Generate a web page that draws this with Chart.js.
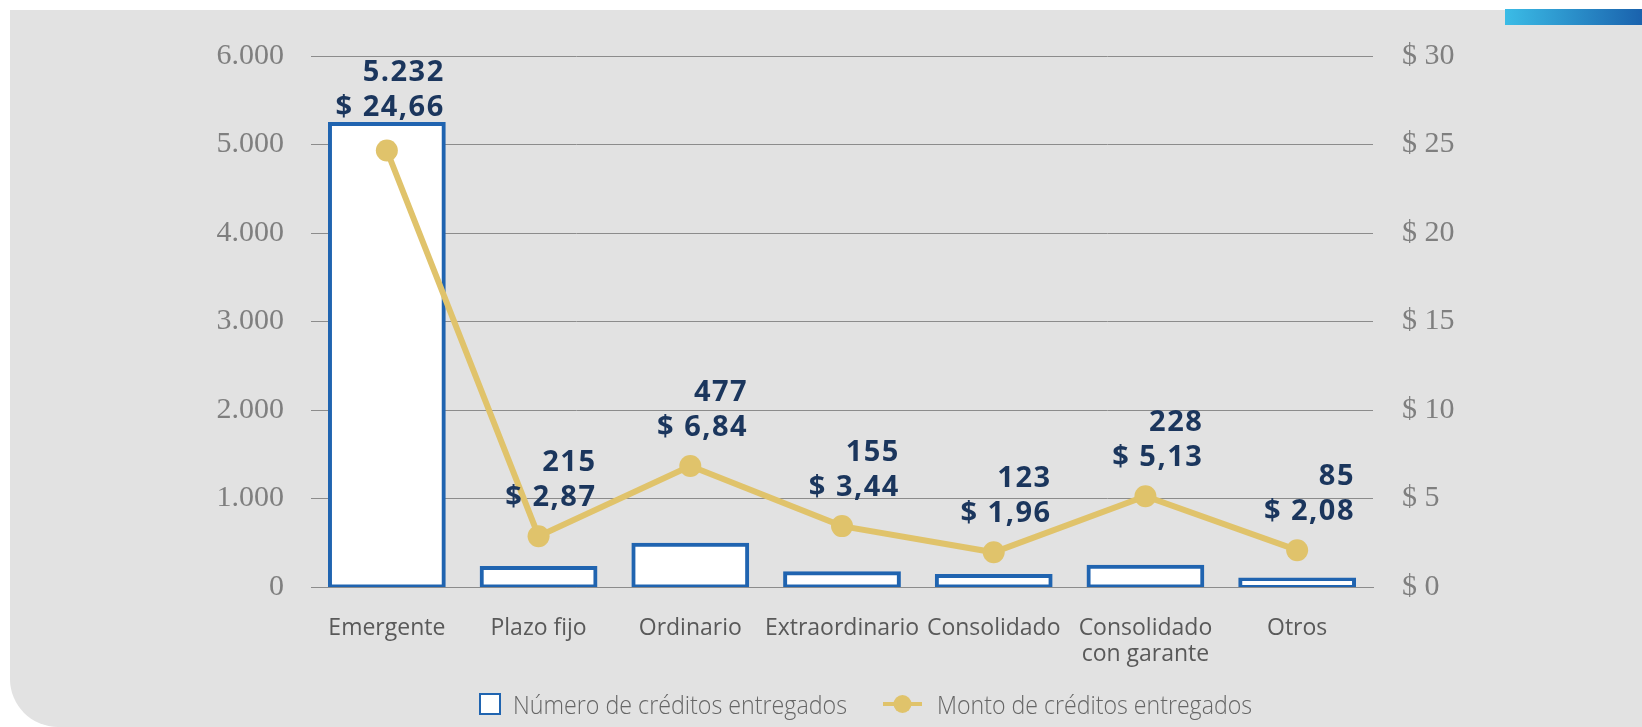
<!DOCTYPE html>
<html lang="es">
<head>
<meta charset="utf-8">
<title>Créditos entregados</title>
<script src="https://cdn.jsdelivr.net/npm/chart.js@4.4.1/dist/chart.umd.min.js"></script>
<style>
  html, body { margin: 0; padding: 0; background: #fff; }
  #wrap { position: relative; width: 1642px; height: 727px; overflow: hidden; }
  #panel { position: absolute; left: 10px; top: 10px; right: 0; bottom: 0; background: #e2e2e2; border-bottom-left-radius: 48px; }
  #franja { position: absolute; left: 1505px; top: 9px; width: 137px; height: 16px; background: linear-gradient(90deg, #3bbce6, #1a62ad); }
  #grafico { position: absolute; left: 0; top: 0; }
</style>
</head>
<body>
<div id="wrap">
  <div id="panel"></div>
  <div id="franja"></div>
  <canvas id="grafico" width="1642" height="727"></canvas>
</div>
<script>
// Datos del gráfico
const categorias = ['Emergente', 'Plazo fijo', 'Ordinario', 'Extraordinario', 'Consolidado', ['Consolidado', 'con garante'], 'Otros'];
const numeroCreditos = [5232, 215, 477, 155, 123, 228, 85];
const montoCreditos = [24.66, 2.87, 6.84, 3.44, 1.96, 5.13, 2.08];
const ticksNumero = [0, 1000, 2000, 3000, 4000, 5000, 6000];
const ticksMonto = [0, 5, 10, 15, 20, 25, 30];

const azul = '#2064b0';
const dorado = '#e0c36b';
const marino = '#1b365d';
const gris = '#8c8c8c';

// 5232 -> "5.232", 24.66 -> "24,66"
const fmtNumero = v => String(v).replace(/\B(?=(\d{3})+(?!\d))/g, '.');
const fmtMonto = v => v.toFixed(2).replace('.', ',');

// Etiquetas de datos: número arriba, monto debajo, alineadas al borde derecho de la barra
const etiquetas = {
    id: 'etiquetas',
    afterDatasetsDraw(chart) {
        const ctx = chart.ctx;
        const barras = chart.getDatasetMeta(0).data;
        const puntos = chart.getDatasetMeta(1).data;
        ctx.save();
        ctx.font = '700 29px "Open Sans"';
        ctx.letterSpacing = '1.5px';
        ctx.fillStyle = marino;
        ctx.textAlign = 'right';
        ctx.textBaseline = 'alphabetic';
        barras.forEach((b, i) => {
            const derecha = b.x + b.width / 2 + 1;
            const base = Math.min(b.y - 8, puntos[i].y - 30);
            ctx.fillText('$ ' + fmtMonto(montoCreditos[i]), derecha, base);
            ctx.fillText(fmtNumero(numeroCreditos[i]), derecha, base - 35);
        });
        ctx.restore();
    }
};

// Leyenda propia
const leyenda = {
    id: 'leyenda',
    afterDraw(chart) {
        const ctx = chart.ctx;
        const ds = chart.data.datasets;
        const y = 704;
        let x = chart.chartArea.left + 169;
        ctx.save();
        ctx.fillStyle = '#fff';
        ctx.fillRect(x, y - 10, 20, 20);
        ctx.strokeStyle = azul;
        ctx.lineWidth = 2;
        ctx.strokeRect(x, y - 10, 20, 20);
        ctx.font = '300 25px "Open Sans"';
        ctx.fillStyle = '#666';
        ctx.textBaseline = 'alphabetic';
        ctx.fillText(ds[0].label, x + 33, y + 10, 334);
        x += 403;
        ctx.strokeStyle = dorado;
        ctx.lineWidth = 4;
        ctx.beginPath();
        ctx.moveTo(x, y);
        ctx.lineTo(x + 39, y);
        ctx.stroke();
        ctx.fillStyle = dorado;
        ctx.beginPath();
        ctx.arc(x + 19.5, y, 9, 0, Math.PI * 2);
        ctx.fill();
        ctx.fillStyle = '#666';
        ctx.fillText(ds[1].label, x + 54, y + 10, 315);
        ctx.restore();
    }
};

const config = {
    data: {
        labels: categorias,
        datasets: [
            {
                type: 'bar',
                label: 'Número de créditos entregados',
                data: numeroCreditos,
                backgroundColor: '#ffffff',
                borderColor: azul,
                borderWidth: 4,
                borderSkipped: false,
                inflateAmount: 2,
                categoryPercentage: 1,
                barPercentage: 0.75,
                yAxisID: 'y',
                order: 1
            },
            {
                type: 'line',
                label: 'Monto de créditos entregados',
                data: montoCreditos,
                borderColor: dorado,
                backgroundColor: dorado,
                borderWidth: 6,
                pointRadius: 11,
                pointBorderWidth: 0,
                pointBackgroundColor: dorado,
                tension: 0,
                yAxisID: 'y1',
                order: 0
            }
        ]
    },
    options: {
        responsive: false,
        animation: false,
        devicePixelRatio: 1,
        layout: { padding: { top: 56, left: 0, right: 0, bottom: 0 } },
        plugins: {
            legend: { display: false },
            tooltip: { enabled: false }
        },
        scales: {
            x: {
                grid: { display: false },
                border: { color: gris, width: 1 },
                ticks: {
                    color: '#595959',
                    font: { family: '"Open Sans"', size: 23, lineHeight: 1.15 },
                    padding: 20,
                    maxRotation: 0,
                    autoSkip: false
                },
                afterFit: s => { s.height = 140; }
            },
            y: {
                position: 'left',
                min: 0,
                max: 6000,
                afterBuildTicks: s => { s.ticks = ticksNumero.map(v => ({ value: v })); },
                grid: { color: gris, lineWidth: 1, drawTicks: false },
                border: { display: false },
                ticks: {
                    color: '#7f7f7f',
                    font: { family: '"Liberation Serif"', size: 30 },
                    padding: 27,
                    callback: v => fmtNumero(v)
                },
                afterFit: s => { s.width = 311; }
            },
            y1: {
                position: 'right',
                min: 0,
                max: 30,
                afterBuildTicks: s => { s.ticks = ticksMonto.map(v => ({ value: v })); },
                grid: { drawOnChartArea: false, drawTicks: false },
                border: { display: false },
                ticks: {
                    color: '#7f7f7f',
                    font: { family: '"Liberation Serif"', size: 30 },
                    padding: 29,
                    callback: v => '$ ' + v
                },
                afterFit: s => { s.width = 269; }
            }
        }
    },
    plugins: [etiquetas, leyenda]
};

const grafico = new Chart(document.getElementById('grafico'), config);
</script>
</body>
</html>
